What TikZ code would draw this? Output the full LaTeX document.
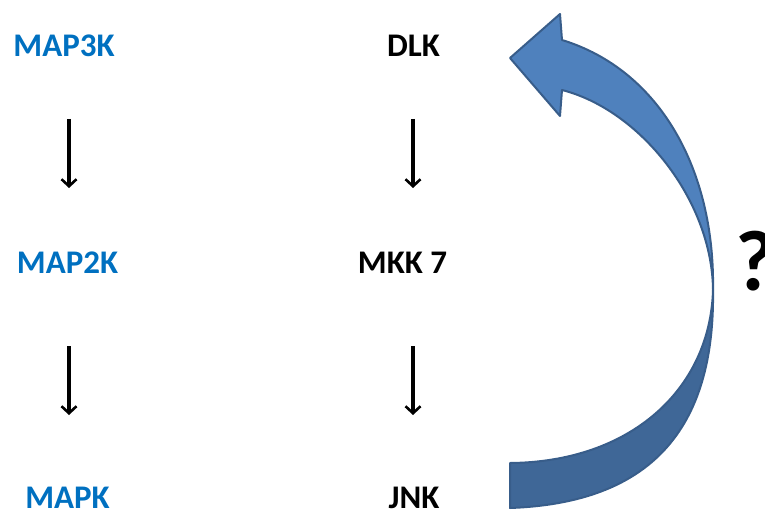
\documentclass[tikz,border=0pt]{standalone}
\usepackage{fontspec}
\setmainfont{Carlito}
\usetikzlibrary{arrows.meta}
\definecolor{officeblue}{HTML}{0070C0}
\definecolor{arrowlight}{HTML}{4F81BD}
\definecolor{arrowdark}{HTML}{3F6797}
\definecolor{arrowline}{HTML}{385D8A}
\tikzset{
  lbl/.style={font=\fontsize{33}{40}\selectfont\bfseries, anchor=base, inner sep=0pt},
  bluelbl/.style={lbl, text=officeblue},
  blacklbl/.style={lbl, text=black},
  downarrow/.style={line width=3.2pt, -{Straight Barb[length=7pt,width=15pt,line width=2.6pt]}},
  bigarrow/.style={draw=arrowline, line width=2pt, line join=round}
}
\begin{document}
\begin{tikzpicture}[x=1pt,y=-1pt]
\useasboundingbox (0,0) rectangle (765,516);

% labels
\node[bluelbl] (map3k) at (64,57) {MAP3K};
\node[bluelbl] (map2k) at (67.5,273) {MAP2K};
\node[bluelbl] (mapk) at (67.5,508) {MAPK};
\node[blacklbl] (dlk) at (413.5,57) {DLK};
\node[blacklbl] (mkk) at (402.5,273) {MKK 7};
\node[blacklbl] (jnk) at (414,508) {JNK};
\node[lbl, font=\fontsize{86}{100}\selectfont\bfseries] (q) at (755,290) {?};

% arrow end points
\coordinate (l1s) at (69,119);
\coordinate (l1e) at (69,188);
\coordinate (l2s) at (69,346);
\coordinate (l2e) at (69,415);
\coordinate (m1s) at (413,119);
\coordinate (m1e) at (413,188);
\coordinate (m2s) at (413,346);
\coordinate (m2e) at (413,415);

\draw[downarrow] (l1s) -- (l1e);
\draw[downarrow] (l2s) -- (l2e);
\draw[downarrow] (m1s) -- (m1e);
\draw[downarrow] (m2s) -- (m2e);

% curved feedback arrow
\coordinate (pinch) at (713,290);
\coordinate (tailtop) at (510,463);
\coordinate (tailbot) at (510,508);
\coordinate (joinup) at (562,40);
\coordinate (barbup) at (560,14);
\coordinate (tip) at (510,58);
\coordinate (barblo) at (560,116);
\coordinate (joinlo) at (562,90);

% lower (darker) half
\fill[arrowdark] (tailtop) .. controls (630,462) and (710,390) .. (pinch)
  .. controls (715,430) and (650,503) .. (tailbot) -- cycle;
\draw[bigarrow] (tailtop) .. controls (630,462) and (710,390) .. (pinch)
  .. controls (715,430) and (650,503) .. (tailbot) -- cycle;

% upper (lighter) half with head
\fill[arrowlight] (pinch) .. controls (715,170) and (660,70) .. (joinup)
  -- (barbup) -- (tip) -- (barblo) -- (joinlo)
  .. controls (640,110) and (712,200) .. (pinch) -- cycle;
\draw[bigarrow] (pinch) .. controls (715,170) and (660,70) .. (joinup)
  -- (barbup) -- (tip) -- (barblo) -- (joinlo)
  .. controls (640,110) and (712,200) .. (pinch) -- cycle;
\end{tikzpicture}
\end{document}
